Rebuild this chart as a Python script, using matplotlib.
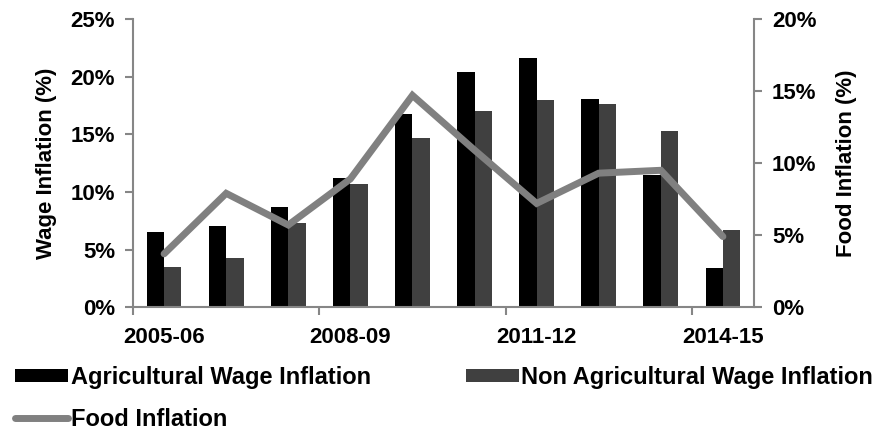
import numpy as np
import matplotlib.pyplot as plt
from matplotlib.ticker import FuncFormatter, FixedLocator

plt.rcParams['font.family'] = ['Liberation Sans', 'DejaVu Sans']
plt.rcParams['font.weight'] = 'bold'

# Data (%)
years = ['2005-06', '2006-07', '2007-08', '2008-09', '2009-10',
         '2010-11', '2011-12', '2012-13', '2013-14', '2014-15']
agri_wage = [6.5, 7.0, 8.7, 11.2, 16.8, 20.4, 21.6, 18.1, 11.5, 3.4]
nonagri_wage = [3.5, 4.3, 7.3, 10.7, 14.7, 17.0, 18.0, 17.6, 15.3, 6.7]
food_infl = [3.7, 7.9, 5.7, 8.9, 14.7, 10.9, 7.2, 9.3, 9.5, 4.9]

x = np.arange(len(years))
width = 0.28
spine_col = '#868686'
pct = FuncFormatter(lambda v, p: f'{v:.0f}%')

fig, ax1 = plt.subplots(figsize=(8.87, 4.32), dpi=100)
fig.subplots_adjust(left=0.15, right=0.85, top=0.956, bottom=0.289)

b1 = ax1.bar(x - width/2, agri_wage, width, color='#000000',
             label='Agricultural Wage Inflation')
b2 = ax1.bar(x + width/2, nonagri_wage, width, color='#404040',
             label='Non Agricultural Wage Inflation')
ax1.set_xlim(-0.5, 9.5)
ax1.set_ylim(0, 25)
ax1.set_yticks(np.arange(0, 26, 5))
ax1.yaxis.set_major_formatter(pct)
ax1.set_ylabel('Wage Inflation (%)', fontsize=16, fontweight='bold', labelpad=10)

# tick marks between category groups, labels on every third year
ax1.xaxis.set_major_locator(FixedLocator([-0.5, 2.5, 5.5, 8.5]))
ax1.xaxis.set_minor_locator(FixedLocator([0, 3, 6, 9]))
ax1.set_xticklabels([], minor=False)
ax1.set_xticklabels([years[i] for i in [0, 3, 6, 9]], minor=True)
ax1.tick_params(axis='x', which='major', length=6, width=1.5, color=spine_col)
ax1.tick_params(axis='x', which='minor', length=0, labelsize=16, pad=14)
ax1.tick_params(axis='y', length=6, width=1.5, color=spine_col, labelsize=16, pad=7)

ax2 = ax1.twinx()
ln, = ax2.plot(x, food_infl, color='#808080', linewidth=5,
               solid_capstyle='round', solid_joinstyle='miter',
               label='Food Inflation')
ax2.set_ylim(0, 20)
ax2.set_yticks(np.arange(0, 21, 5))
ax2.yaxis.set_major_formatter(pct)
ax2.set_ylabel('Food Inflation (%)', fontsize=16, fontweight='bold', labelpad=14)
ax2.tick_params(axis='y', length=6, width=1.5, color=spine_col, labelsize=16, pad=7)

for ax in (ax1, ax2):
    ax.spines['top'].set_visible(False)
    for s in ('left', 'right', 'bottom'):
        ax.spines[s].set_color(spine_col)
        ax.spines[s].set_linewidth(1.5)
    for lbl in ax.get_xticklabels(minor=True) + ax.get_yticklabels():
        lbl.set_fontweight('bold')
ax1.spines['right'].set_visible(False)
ax2.spines['left'].set_visible(False)
ax2.spines['bottom'].set_visible(False)

fig.legend([b1, ln, b2],
           ['Agricultural Wage Inflation', 'Food Inflation',
            'Non Agricultural Wage Inflation'],
           ncol=2, loc='upper left', bbox_to_anchor=(15 / 887, 1 - 366 / 432),
           frameon=False, borderpad=0, borderaxespad=0,
           handlelength=2.25, handleheight=0.47,
           handletextpad=0.12, columnspacing=4.0, labelspacing=0.8,
           prop={'weight': 'bold', 'size': 17})

fig.savefig('out.png', dpi=100)
